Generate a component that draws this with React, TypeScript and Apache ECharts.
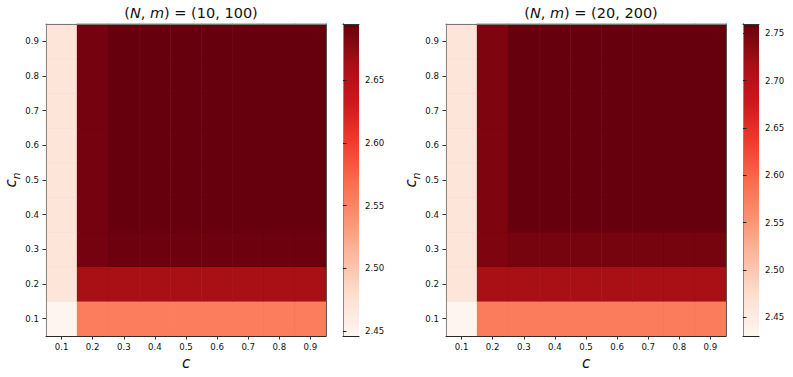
import React, { useEffect, useRef } from "react";
import * as echarts from "echarts";

// c (x) and c_n (y) categories
const cLabels = ["0.1", "0.2", "0.3", "0.4", "0.5", "0.6", "0.7", "0.8", "0.9"];
const cnLabels = ["0.1", "0.2", "0.3", "0.4", "0.5", "0.6", "0.7", "0.8", "0.9"];

const leftTitle = { N: "10", m: "100" };
const rightTitle = { N: "20", m: "200" };

// rows: c_n = 0.1 .. 0.9 ; columns: c = 0.1 .. 0.9
const leftValues: number[][] = [
  [2.446, 2.556, 2.556, 2.556, 2.556, 2.556, 2.556, 2.556, 2.556],
  [2.470, 2.661, 2.661, 2.661, 2.661, 2.661, 2.661, 2.661, 2.661],
  [2.470, 2.688, 2.692, 2.692, 2.692, 2.692, 2.692, 2.692, 2.692],
  [2.470, 2.688, 2.695, 2.695, 2.695, 2.695, 2.695, 2.695, 2.695],
  [2.470, 2.688, 2.695, 2.695, 2.695, 2.695, 2.695, 2.695, 2.695],
  [2.470, 2.688, 2.695, 2.695, 2.695, 2.695, 2.695, 2.695, 2.695],
  [2.470, 2.688, 2.695, 2.695, 2.695, 2.695, 2.695, 2.695, 2.695],
  [2.470, 2.688, 2.695, 2.695, 2.695, 2.695, 2.695, 2.695, 2.695],
  [2.470, 2.688, 2.695, 2.695, 2.695, 2.695, 2.695, 2.695, 2.695],
];

const rightValues: number[][] = [
  [2.430, 2.576, 2.576, 2.576, 2.576, 2.576, 2.576, 2.576, 2.576],
  [2.461, 2.715, 2.715, 2.715, 2.715, 2.715, 2.715, 2.715, 2.715],
  [2.461, 2.745, 2.750, 2.750, 2.750, 2.750, 2.750, 2.750, 2.750],
  [2.461, 2.745, 2.760, 2.760, 2.760, 2.760, 2.760, 2.760, 2.760],
  [2.461, 2.745, 2.760, 2.760, 2.760, 2.760, 2.760, 2.760, 2.760],
  [2.461, 2.745, 2.760, 2.760, 2.760, 2.760, 2.760, 2.760, 2.760],
  [2.461, 2.745, 2.760, 2.760, 2.760, 2.760, 2.760, 2.760, 2.760],
  [2.461, 2.745, 2.760, 2.760, 2.760, 2.760, 2.760, 2.760, 2.760],
  [2.461, 2.745, 2.760, 2.760, 2.760, 2.760, 2.760, 2.760, 2.760],
];

const leftCbTicks = [2.45, 2.5, 2.55, 2.6, 2.65];
const rightCbTicks = [2.45, 2.5, 2.55, 2.6, 2.65, 2.7, 2.75];

const REDS = [
  "#fff5f0", "#fee0d2", "#fcbba1", "#fc9272", "#fb6a4a",
  "#ef3b2c", "#cb181d", "#a50f15", "#67000d",
];

const FONT = "DejaVu Sans";

function toCells(vals: number[][]) {
  const out: number[][] = [];
  vals.forEach((row, yi) => row.forEach((v, xi) => out.push([xi, yi, v])));
  return out;
}
function extent(vals: number[][]) {
  const flat = vals.flat();
  return [Math.min(...flat), Math.max(...flat)];
}

export default function App() {
  const ref = useRef<HTMLDivElement>(null);
  useEffect(() => {
    if (!ref.current) return;
    const chart = echarts.init(ref.current, undefined, { renderer: "svg" });
    const [lMin, lMax] = extent(leftValues);
    const [rMin, rMax] = extent(rightValues);

    const heatGrids = [
      { left: 46, top: 24, width: 280, height: 312 },
      { left: 446, top: 24, width: 280, height: 312 },
    ];
    const cbGrids = [
      { left: 343, top: 24, width: 16, height: 312 },
      { left: 743, top: 24, width: 16, height: 312 },
    ];
    const grids = [heatGrids[0], cbGrids[0], heatGrids[1], cbGrids[1]].map((g) => ({
      ...g,
      show: false,
      containLabel: false,
    }));

    const gradStops = REDS.map((c, i) => ({ offset: i / (REDS.length - 1), color: c }));

    const catX = (gi: number) => ({
      type: "category",
      gridIndex: gi,
      data: cLabels,
      position: "bottom",
      z: 10,
      axisLine: { show: true, lineStyle: { color: "#2a2a2a", width: 1 } },
      axisTick: { show: true, alignWithLabel: true, length: 3.5, lineStyle: { color: "#333" } },
      axisLabel: { fontSize: 8.6, color: "#111", margin: 6, fontFamily: FONT },
      splitLine: { show: false },
      name: "c",
      nameLocation: "middle",
      nameGap: 19,
      nameTextStyle: { fontSize: 15, fontStyle: "italic", color: "#111", fontFamily: FONT },
    });
    const topX = (gi: number) => ({
      type: "category",
      gridIndex: gi,
      data: cLabels,
      position: "top",
      z: 10,
      axisLine: { show: true, lineStyle: { color: "#777", width: 1 } },
      axisTick: { show: false },
      axisLabel: { show: false },
      splitLine: { show: false },
    });
    const catY = (gi: number) => ({
      type: "category",
      gridIndex: gi,
      data: cnLabels,
      position: "left",
      z: 10,
      axisLine: { show: true, lineStyle: { color: "#888", width: 1 } },
      axisTick: { show: true, alignWithLabel: true, length: 3.5, lineStyle: { color: "#333" } },
      axisLabel: { fontSize: 8.6, color: "#111", margin: 7, fontFamily: FONT },
      splitLine: { show: false },
      name: "{c|c}{n|n}",
      nameLocation: "middle",
      nameRotate: 90,
      nameGap: 23,
      nameTextStyle: {
        fontFamily: FONT,
        color: "#111",
        rich: {
          c: { fontSize: 15, fontStyle: "italic", fontFamily: FONT, color: "#111", lineHeight: 16, verticalAlign: "top" },
          n: { fontSize: 10.5, fontStyle: "italic", fontFamily: FONT, color: "#111", lineHeight: 11, padding: [7, 0, 0, 0], verticalAlign: "top" },
        },
      },
    });
    const rightYEdge = (gi: number) => ({
      type: "category",
      gridIndex: gi,
      data: cnLabels,
      position: "right",
      z: 10,
      axisLine: { show: true, lineStyle: { color: "#555", width: 1 } },
      axisTick: { show: false },
      axisLabel: { show: false },
      splitLine: { show: false },
    });
    const cbX = (gi: number) => ({
      type: "value",
      gridIndex: gi,
      min: 0,
      max: 1,
      position: "bottom",
      z: 10,
      axisLine: { show: true, lineStyle: { color: "#222" } },
      axisTick: { show: false },
      axisLabel: { show: false },
      splitLine: { show: false },
    });
    const cbXTop = (gi: number) => ({
      type: "value",
      gridIndex: gi,
      min: 0,
      max: 1,
      position: "top",
      z: 10,
      axisLine: { show: true, lineStyle: { color: "#333" } },
      axisTick: { show: false },
      axisLabel: { show: false },
      splitLine: { show: false },
    });
    const cbY = (gi: number, min: number, max: number, ticks: number[]) => ({
      type: "value",
      gridIndex: gi,
      min,
      max,
      position: "right",
      z: 10,
      axisLine: { show: true, lineStyle: { color: "#222" } },
      axisTick: { show: true, length: 3.5, customValues: ticks, lineStyle: { color: "#222" } },
      axisLabel: {
        customValues: ticks,
        fontSize: 8.6,
        color: "#111",
        margin: 6,
        fontFamily: FONT,
        formatter: (v: number) => v.toFixed(2),
      },
      splitLine: { show: false },
    });
    const cbYLeft = (gi: number, min: number, max: number) => ({
      type: "value",
      gridIndex: gi,
      min,
      max,
      position: "left",
      z: 10,
      axisLine: { show: true, lineStyle: { color: "#888" } },
      axisTick: { show: false },
      axisLabel: { show: false },
      splitLine: { show: false },
    });

    const cbSeries = (idx: number, min: number, max: number) => ({
      type: "custom",
      xAxisIndex: idx,
      yAxisIndex: idx,
      z: 2,
      silent: true,
      encode: { x: [0, 2], y: [1, 3] },
      data: [[0, min, 1, max]],
      renderItem: (_p: any, api: any) => {
        const a = api.coord([api.value(0), api.value(1)]);
        const b = api.coord([api.value(2), api.value(3)]);
        return {
          type: "rect",
          shape: { x: a[0], y: b[1], width: b[0] - a[0], height: a[1] - b[1] },
          style: { fill: new echarts.graphic.LinearGradient(0, 1, 0, 0, gradStops) },
        };
      },
    });

    const heatSeries = (idx: number, vals: number[][]) => ({
      type: "heatmap",
      xAxisIndex: idx,
      yAxisIndex: idx,
      z: 2,
      data: toCells(vals),
      itemStyle: { borderColor: "rgba(90,0,0,0.045)", borderWidth: 0.6 },
      emphasis: { disabled: true },
    });

    const titleText = (t: { N: string; m: string }) =>
      `{r|(}{i|N}{r|, }{i|m}{r|) = (${t.N}, ${t.m})}`;
    const titleRich = {
      r: { fontSize: 14.5, fontFamily: FONT, fontWeight: "normal", color: "#111" },
      i: { fontSize: 14.5, fontFamily: FONT, fontStyle: "italic", fontWeight: "normal", color: "#111" },
    };

    chart.setOption({
      animation: false,
      textStyle: { fontFamily: FONT },
      title: [
        { text: titleText(leftTitle), left: 186, top: 0, textAlign: "center", textStyle: { fontWeight: "normal", rich: titleRich } },
        { text: titleText(rightTitle), left: 586, top: 0, textAlign: "center", textStyle: { fontWeight: "normal", rich: titleRich } },
      ],
      grid: grids,
      xAxis: [catX(0), cbX(1), catX(2), cbX(3), topX(0), cbXTop(1), topX(2), cbXTop(3)],
      yAxis: [
        catY(0),
        cbY(1, lMin, lMax, leftCbTicks),
        catY(2),
        cbY(3, rMin, rMax, rightCbTicks),
        rightYEdge(0),
        cbYLeft(1, lMin, lMax),
        rightYEdge(2),
        cbYLeft(3, rMin, rMax),
      ],
      visualMap: [
        { type: "continuous", show: false, seriesIndex: 0, dimension: 2, min: lMin, max: lMax, inRange: { color: REDS } },
        { type: "continuous", show: false, seriesIndex: 2, dimension: 2, min: rMin, max: rMax, inRange: { color: REDS } },
      ],
      series: [
        heatSeries(0, leftValues),
        cbSeries(1, lMin, lMax),
        heatSeries(2, rightValues),
        cbSeries(3, rMin, rMax),
      ],
    });
    return () => chart.dispose();
  }, []);
  return (
    <div
      ref={ref}
      style={{ position: "absolute", left: 0, top: 0, width: 793, height: 377, background: "#fff" }}
    />
  );
}
